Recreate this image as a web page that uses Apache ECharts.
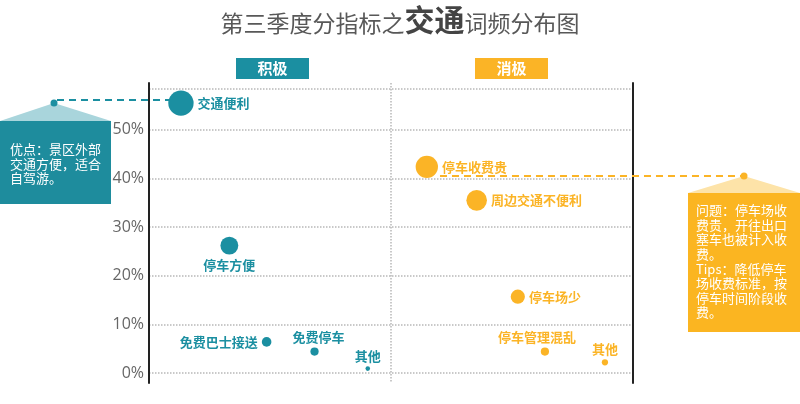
<!DOCTYPE html>
<html><head><meta charset="utf-8">
<script src="https://cdn.jsdelivr.net/npm/echarts@6/dist/echarts.min.js"></script>
<style>html,body{margin:0;padding:0;background:#fff}#c{width:800px;height:404px}</style>
</head><body><div id="c"></div>
<script>
// ---- data ----
const posNames = ['交通便利', '停车方便', '免费巴士接送', '免费停车', '其他'];
const posX = [6.6, 16.6, 24.3, 34.2, 45.2];
const posY = [55.5, 26.2, 6.4, 4.4, 0.9];
const negNames = ['停车收费贵', '周边交通不便利', '停车场少', '停车管理混乱', '其他'];
const negX = [57.4, 67.7, 76.2, 81.8, 94.2];
const negY = [42.4, 35.5, 15.7, 4.4, 2.2];
const yTicks = [0, 10, 20, 30, 40, 50];
const groupLabels = ['积极', '消极'];
const posNote = ['优点：景区外部', '交通方便，适合', '自驾游。'];
const negNote = ['问题：停车场收', '费贵，开往出口', '塞车也被计入收', '费。', 'Tips：降低停车', '场收费标准，按', '停车时间阶段收', '费。'];
const titleParts = ['第三季度分指标之', '交通', '词频分布图'];

// ---- styles ----
const TEAL = '#1b8fa1', ORANGE = '#fbb426';
const FONT = '"Noto Sans CJK SC", "Microsoft YaHei", sans-serif';
const posLabelPos = ['right', 'bottom', 'left', 'top', 'top'];
const negLabelPos = ['right', 'right', 'right', 'top', 'top'];
const posLabelOff = [[0, 0], [0, 0], [0, 0], [4, 0], [0, 0]];
const negLabelOff = [[0, 0], [0, 0], [0, 0], [-8, 0], [0, 0]];
const sz = v => 3.2 * Math.sqrt(v[1]) + 1.5;

function mk(names, xs, ys, lp, off) {
  return names.map((n, i) => ({ name: n, value: [xs[i], ys[i]], label: { position: lp[i], offset: off[i] } }));
}

const chart = echarts.init(document.getElementById('c'), null, { renderer: 'canvas' });

const gridLine = { show: true, lineStyle: { color: '#b8b8b8', type: 'dotted', width: 1.5 } };

const option = {
  animation: false,
  backgroundColor: '#fff',
  title: {
    text: '{a|' + titleParts[0] + '}{b|' + titleParts[1] + '}{a|' + titleParts[2] + '}',
    left: 'center', top: -4,
    textStyle: {
      fontWeight: 'normal',
      rich: {
        a: { fontSize: 23, color: '#585858', fontWeight: 'normal', fontFamily: FONT, verticalAlign: 'bottom', lineHeight: 34 },
        b: { fontSize: 30, color: '#444', fontWeight: 'bold', fontFamily: FONT, verticalAlign: 'bottom', lineHeight: 34 }
      }
    }
  },
  grid: [
    { left: 149, right: 167, top: 89, bottom: 31 },
    { left: 149, right: 167, top: 83, bottom: 21 }
  ],
  xAxis: [
    { gridIndex: 0, type: 'value', min: 0, max: 100, show: false },
    { gridIndex: 1, type: 'value', min: 0, max: 2, interval: 1,
      axisLine: { show: false }, axisTick: { show: false }, axisLabel: { show: false },
      splitLine: { show: true, lineStyle: { color: '#b8b8b8', type: 'dotted', width: 1.5 } } }
  ],
  yAxis: [
    { gridIndex: 0, type: 'value', min: 0, max: 58.4, interval: 10,
      axisLine: { show: false }, axisTick: { show: false },
      axisLabel: { margin: 5, fontSize: 16, color: '#666', fontFamily: '"Open Sans", sans-serif',
        formatter: v => (yTicks.indexOf(Math.round(v * 10) / 10) >= 0 ? v + '%' : '') },
      splitLine: gridLine },
    { gridIndex: 1, type: 'value', min: 0, max: 1, position: 'left',
      axisLine: { show: true, lineStyle: { color: '#222', width: 2 } },
      axisTick: { show: false }, axisLabel: { show: false }, splitLine: { show: false } },
    { gridIndex: 1, type: 'value', min: 0, max: 1, position: 'right',
      axisLine: { show: true, lineStyle: { color: '#222', width: 2 } },
      axisTick: { show: false }, axisLabel: { show: false }, splitLine: { show: false } }
  ],
  series: [
    { type: 'scatter', xAxisIndex: 0, yAxisIndex: 0, z: 5,
      data: mk(posNames, posX, posY, posLabelPos, posLabelOff), symbolSize: sz,
      itemStyle: { color: TEAL, opacity: 1 },
      label: { show: true, formatter: '{b}', color: TEAL, fontSize: 13, fontWeight: 'bold', fontFamily: FONT, distance: 4 } },
    { type: 'scatter', xAxisIndex: 0, yAxisIndex: 0, z: 5,
      data: mk(negNames, negX, negY, negLabelPos, negLabelOff), symbolSize: sz,
      itemStyle: { color: ORANGE, opacity: 1 },
      label: { show: true, formatter: '{b}', color: ORANGE, fontSize: 13, fontWeight: 'bold', fontFamily: FONT, distance: 4 } }
  ]
};
chart.setOption(option);

// ---- decorations (callouts, header boxes, connectors) ----
const pA = chart.convertToPixel({ seriesIndex: 0 }, [posX[0], posY[0]]);
const pB = chart.convertToPixel({ seriesIndex: 1 }, [negX[0], negY[0]]);
const rB = sz([0, negY[0]]) / 2;

const graphics = [
  // header boxes
  { type: 'rect', shape: { x: 236, y: 58, width: 73, height: 21 }, style: { fill: TEAL } },
  { type: 'text', x: 272.5, y: 68.5, style: { text: groupLabels[0], fill: '#fff', font: 'bold 15px ' + FONT, align: 'center', verticalAlign: 'middle' } },
  { type: 'rect', shape: { x: 475, y: 58, width: 73, height: 21 }, style: { fill: ORANGE } },
  { type: 'text', x: 511.5, y: 68.5, style: { text: groupLabels[1], fill: '#fff', font: 'bold 15px ' + FONT, align: 'center', verticalAlign: 'middle' } },

  // left callout
  { type: 'line', z: 1, shape: { x1: 57, y1: 100, x2: pA[0], y2: 100 }, style: { stroke: TEAL, lineWidth: 2, lineDash: [7, 5] } },
  { type: 'polygon', shape: { points: [[54, 103], [0, 121], [111, 121]] }, style: { fill: '#a9d5dc' } },
  { type: 'rect', shape: { x: 0, y: 121, width: 111, height: 83 }, style: { fill: '#1e8c9d' } },
  { type: 'circle', shape: { cx: 54, cy: 103, r: 3.5 }, style: { fill: TEAL } },
  { type: 'text', x: 10, y: 142, style: { text: posNote.join('\n'), fill: '#fff', font: '13px ' + FONT, lineHeight: 14.5 } },

  // right callout
  { type: 'line', z: 1, shape: { x1: pB[0] + rB + 2, y1: 176, x2: 741, y2: 176 }, style: { stroke: ORANGE, lineWidth: 2, lineDash: [7, 5] } },
  { type: 'polygon', shape: { points: [[744, 176], [688, 193], [800, 193]] }, style: { fill: '#fde3a8' } },
  { type: 'rect', shape: { x: 688, y: 193, width: 112, height: 139 }, style: { fill: '#fbb521' } },
  { type: 'circle', shape: { cx: 744, cy: 176, r: 3.5 }, style: { fill: ORANGE } },
  { type: 'text', x: 696, y: 203, style: { text: negNote.join('\n'), fill: '#fff', font: '13px ' + FONT, lineHeight: 14.6 } }
];
chart.setOption({ graphic: graphics });
</script>
</body></html>
